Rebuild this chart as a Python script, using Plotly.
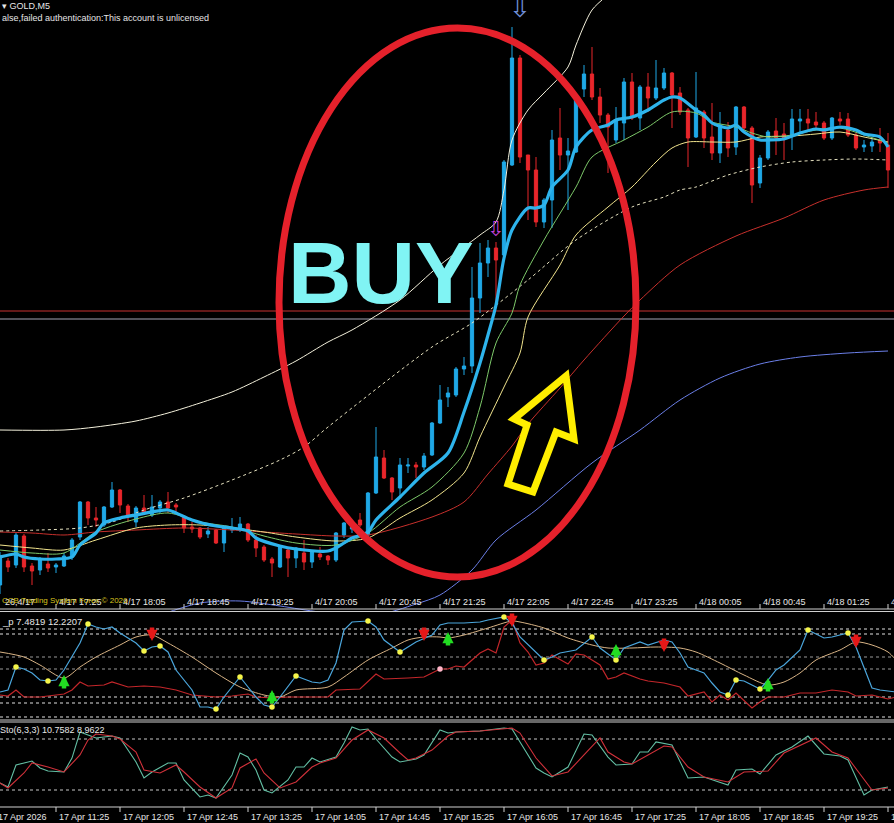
import plotly.graph_objects as go

W, H = 894, 823

# ---- main chart: GOLD M5 candles (bar index 0..111) ----
bar_idx = list(range(112))
c_open = [4841.5, 4843.9, 4843.5, 4846.4, 4843.4, 4843.0, 4843.6, 4843.3, 4843.4, 4844.3,
          4846.3, 4849.8, 4848.2, 4847.5, 4849.3, 4851.0, 4849.4, 4847.8, 4849.2, 4848.5,
          4849.2, 4849.8, 4849.5, 4848.3, 4847.3, 4847.2, 4846.6, 4847.0, 4845.7, 4847.0,
          4847.2, 4847.6, 4846.0, 4845.3, 4844.1, 4843.3, 4845.0, 4844.2, 4844.7, 4843.8,
          4844.6, 4844.4, 4844.0, 4846.5, 4847.1, 4848.0, 4846.5, 4850.7, 4854.2, 4852.2,
          4851.2, 4853.4, 4853.5, 4853.3, 4854.5, 4857.7, 4860.3, 4860.5, 4863.1, 4863.4,
          4870.2, 4873.7, 4875.2, 4874.5, 4883.5, 4894.2, 4884.5, 4883.0, 4877.8, 4880.0,
          4886.2, 4884.5, 4884.8, 4891.1, 4892.6, 4890.3, 4888.5, 4886.0, 4887.7, 4891.8,
          4888.2, 4891.3, 4890.2, 4891.2, 4892.7, 4890.7, 4889.0, 4886.3, 4888.8, 4886.3,
          4884.7, 4887.0, 4885.3, 4889.3, 4887.2, 4881.7, 4884.2, 4886.9, 4886.6, 4886.5,
          4887.9, 4888.1, 4887.8, 4887.7, 4886.2, 4888.1, 4888.1, 4886.5, 4885.3, 4885.4,
          4886.0, 4885.5]
c_high = [4844.8, 4844.2, 4846.7, 4846.6, 4843.7, 4844.3, 4844.7, 4843.7, 4844.7, 4846.2,
          4849.9, 4849.9, 4849.3, 4849.4, 4851.8, 4851.1, 4849.6, 4849.4, 4850.5, 4850.5,
          4850.0, 4850.8, 4849.7, 4848.5, 4847.8, 4847.3, 4847.3, 4847.1, 4847.3, 4848.2,
          4848.3, 4847.7, 4846.5, 4845.5, 4844.3, 4845.4, 4845.1, 4845.3, 4846.0, 4844.9,
          4845.3, 4844.5, 4846.8, 4847.8, 4847.6, 4848.7, 4850.8, 4857.3, 4855.0, 4852.3,
          4854.2, 4854.2, 4853.8, 4854.7, 4857.8, 4861.5, 4861.3, 4863.3, 4864.3, 4873.3,
          4875.7, 4876.0, 4875.8, 4884.0, 4897.3, 4894.5, 4884.5, 4884.3, 4880.2, 4887.0,
          4889.2, 4886.2, 4890.1, 4893.5, 4895.3, 4891.2, 4888.7, 4889.3, 4892.2, 4892.7,
          4891.5, 4892.7, 4894.0, 4893.2, 4892.8, 4891.3, 4889.2, 4892.8, 4889.0, 4889.7,
          4888.8, 4887.8, 4889.4, 4889.4, 4887.4, 4884.5, 4887.0, 4888.2, 4887.7, 4889.1,
          4889.1, 4889.1, 4888.8, 4887.9, 4888.3, 4888.8, 4888.7, 4886.7, 4886.0, 4886.2,
          4887.2, 4886.7]
c_low = [4840.6, 4842.8, 4843.2, 4842.8, 4841.5, 4842.5, 4842.8, 4842.7, 4843.3, 4844.0,
         4846.0, 4847.5, 4847.3, 4847.3, 4849.2, 4848.7, 4847.8, 4847.3, 4848.5, 4848.3,
         4848.7, 4848.7, 4848.8, 4846.7, 4846.7, 4846.1, 4846.2, 4845.6, 4844.8, 4846.7,
         4846.8, 4845.8, 4844.3, 4843.8, 4842.3, 4843.2, 4842.3, 4843.2, 4843.0, 4843.2,
         4844.0, 4843.5, 4843.8, 4846.2, 4846.7, 4847.3, 4846.4, 4850.6, 4852.1, 4850.0,
         4850.2, 4852.7, 4852.2, 4853.0, 4854.4, 4857.6, 4859.3, 4860.3, 4862.5, 4862.7,
         4868.7, 4872.3, 4869.3, 4874.4, 4883.4, 4883.7, 4878.0, 4877.3, 4877.2, 4877.2,
         4883.0, 4879.0, 4884.7, 4890.3, 4890.0, 4887.7, 4882.7, 4885.7, 4886.0, 4888.0,
         4887.0, 4888.8, 4890.0, 4891.0, 4887.2, 4888.5, 4883.3, 4886.2, 4885.2, 4884.0,
         4883.7, 4884.3, 4884.5, 4886.8, 4879.7, 4881.2, 4884.0, 4884.5, 4884.0, 4885.0,
         4886.8, 4886.8, 4887.2, 4886.0, 4886.0, 4887.5, 4886.3, 4885.0, 4884.8, 4884.8,
         4884.8, 4881.2]
c_close = [4844.4, 4843.3, 4846.5, 4843.3, 4842.9, 4844.0, 4843.2, 4843.5, 4844.4, 4846.0,
           4849.8, 4848.2, 4848.0, 4849.3, 4851.0, 4849.5, 4848.4, 4849.2, 4848.7, 4849.3,
           4849.8, 4849.2, 4849.3, 4847.2, 4847.1, 4846.3, 4846.9, 4845.7, 4847.2, 4847.2,
           4847.6, 4846.0, 4845.2, 4844.0, 4843.7, 4845.3, 4844.2, 4845.2, 4843.8, 4844.8,
           4844.3, 4844.0, 4846.7, 4847.7, 4847.3, 4847.5, 4850.7, 4854.3, 4852.2, 4850.8,
           4853.5, 4853.5, 4853.3, 4854.4, 4857.7, 4860.0, 4860.7, 4863.1, 4863.4, 4870.2,
           4873.7, 4875.2, 4874.0, 4883.8, 4894.2, 4884.3, 4883.0, 4877.8, 4880.0, 4886.0,
           4884.5, 4884.9, 4890.0, 4892.6, 4890.3, 4888.5, 4887.3, 4888.0, 4891.8, 4888.2,
           4891.3, 4890.2, 4891.2, 4892.7, 4890.5, 4888.8, 4886.2, 4889.2, 4886.2, 4884.7,
           4887.5, 4885.2, 4889.3, 4887.2, 4881.5, 4884.2, 4886.8, 4886.2, 4886.2, 4888.1,
           4888.1, 4887.7, 4887.5, 4886.2, 4888.2, 4887.9, 4886.5, 4885.2, 4885.5, 4885.8,
           4885.7, 4883.0]

# moving averages / bands (bar index, price)
fast_x = [0, 2, 3, 5, 7, 9, 10, 12, 13, 15, 17, 21, 22, 24, 27, 29, 31, 32, 35, 37, 41, 42, 43, 44,
          46, 47, 50, 53, 56, 58, 60, 61, 62, 63, 64, 66, 67, 68, 69, 71, 72, 74, 76, 77, 79, 81,
          83, 84, 85, 87, 88, 89, 91, 92, 93, 95, 96, 98, 100, 102, 103, 105, 107, 108, 110, 111]
fast_y = [4844.3, 4844.6, 4844.3, 4844.1, 4844.1, 4844.3, 4845.5, 4846.7, 4847.7, 4848.2, 4848.5,
          4849.0, 4848.7, 4848.0, 4847.4, 4847.2, 4846.9, 4846.2, 4845.4, 4845.1, 4844.9, 4845.2,
          4845.7, 4846.2, 4846.8, 4848.0, 4850.3, 4852.7, 4854.7, 4858.8, 4863.7, 4866.5, 4869.5,
          4874.2, 4877.0, 4879.2, 4879.2, 4879.5, 4881.3, 4883.0, 4885.3, 4887.0, 4887.5, 4888.0,
          4888.3, 4889.0, 4890.0, 4890.3, 4890.2, 4889.0, 4888.5, 4887.7, 4887.2, 4887.5, 4886.8,
          4886.0, 4886.0, 4886.1, 4886.7, 4887.1, 4887.0, 4887.3, 4887.0, 4886.6, 4886.3, 4885.3]
green_x = [0, 4, 8, 12, 17, 21, 25, 29, 33, 37, 42, 46, 50, 54, 58, 60, 62, 64, 65, 68, 72, 74,
           78, 81, 84, 87, 89, 92, 94, 96, 99, 102, 105, 108, 111]
green_y = [4845.0, 4844.7, 4844.7, 4846.8, 4848.1, 4848.7, 4847.8, 4847.3, 4846.4, 4845.7, 4845.5,
           4846.7, 4849.3, 4851.3, 4854.7, 4859.3, 4865.7, 4868.7, 4871.5, 4876.0, 4881.3, 4884.3,
           4886.0, 4887.3, 4888.8, 4888.7, 4887.8, 4887.3, 4886.7, 4886.3, 4886.5, 4887.0, 4887.2,
           4886.5, 4885.7]
yellow_x = [0, 4, 8, 12, 17, 21, 25, 29, 33, 37, 42, 46, 50, 54, 58, 60, 63, 65, 66, 70, 72, 76,
            79, 82, 84, 86, 89, 92, 95, 99, 102, 105, 108, 111]
yellow_y = [4845.5, 4845.2, 4845.0, 4846.0, 4847.2, 4847.5, 4847.5, 4847.2, 4846.8, 4846.3, 4845.9,
            4846.2, 4848.2, 4850.0, 4852.7, 4856.3, 4861.3, 4864.7, 4868.3, 4873.5, 4876.5, 4879.3,
            4881.3, 4883.8, 4885.2, 4885.8, 4885.8, 4885.8, 4886.3, 4886.4, 4886.6, 4886.8, 4886.3,
            4885.8]
mid_x = [0, 5, 10, 14, 18, 23, 29, 35, 38, 41, 54, 59, 66, 72, 79, 83, 85, 87, 91, 95, 99, 103,
         107, 111]
mid_y = [4846.9, 4847.0, 4847.2, 4847.8, 4849.0, 4850.2, 4852.0, 4854.0, 4855.3, 4857.3, 4865.3,
         4867.7, 4872.0, 4876.0, 4879.3, 4880.3, 4881.0, 4881.3, 4882.5, 4883.3, 4883.8, 4884.0,
         4884.1, 4884.0]
upper_x = [0, 8, 12, 17, 21, 25, 29, 33, 37, 41, 44, 50, 55, 60, 62, 63, 64, 66, 68, 71, 72, 74, 76]
upper_y = [4857.0, 4857.0, 4857.3, 4857.9, 4858.7, 4859.7, 4860.8, 4862.3, 4863.9, 4865.8, 4867.0,
           4870.0, 4873.5, 4876.5, 4877.8, 4881.0, 4886.0, 4889.0, 4890.7, 4893.3, 4895.5, 4899.0,
           4900.5]
slow_x = [0, 4, 8, 12, 17, 23, 29, 33, 37, 42, 46, 54, 58, 61, 64, 66, 70, 73, 78, 80, 85, 92,
          98, 103, 108, 111]
slow_y = [4846.8, 4846.7, 4846.5, 4846.8, 4847.0, 4847.2, 4847.0, 4846.8, 4846.6, 4846.4, 4846.5,
          4848.3, 4849.8, 4852.6, 4855.4, 4857.6, 4861.2, 4864.0, 4868.4, 4870.0, 4873.5, 4876.4,
          4878.2, 4880.0, 4881.0, 4881.3]
lower_x = [20, 25, 30, 35, 40, 47, 52, 55, 59, 62, 67, 74, 80, 85, 90, 95, 100, 106, 111]
lower_y = [4838.5, 4839.7, 4839.9, 4839.4, 4838.8, 4838.5, 4839.6, 4840.5, 4843.0, 4846.0, 4849.0,
           4853.7, 4857.0, 4860.0, 4862.2, 4863.6, 4864.3, 4864.7, 4864.9]
hline_red = 4868.9
hline_gray = 4868.1
sig_x = [62, 65]
sig_y = [4876.9, 4899.0]

# ---- indicator window ----
ib_x = [0, 1, 2, 3, 4, 5, 6, 7, 8, 10, 11, 12, 13, 14, 15, 17, 18, 19, 20, 21, 22, 24, 25, 26, 27,
        28, 29, 30, 31, 32, 33, 34, 35, 36, 37, 38, 39, 40, 41, 42, 43, 44, 46, 47, 48, 50, 51, 52,
        54, 55, 56, 58, 60, 61, 63, 64, 65, 67, 68, 69, 70, 72, 74, 75, 77, 78, 80, 81, 83, 84, 85,
        86, 88, 89, 90, 91, 92, 93, 95, 96, 97, 98, 100, 101, 103, 104, 106, 107, 109, 110, 112]
ib_v = [26, 28, 51, 49, 45, 38, 37, 38, 48, 75, 94, 91, 89, 91, 85, 75, 67, 71, 72, 66, 48, 28, 11,
        11, 9, 21, 31, 41, 31, 21, 13, 11, 21, 31, 42, 39, 36, 35, 38, 55, 88, 96, 97, 91, 78, 66, 71,
        76, 83, 93, 95, 95, 96, 98, 101, 95, 81, 66, 58, 61, 65, 68, 81, 70, 58, 70, 76, 73, 78, 76,
        65, 51, 45, 35, 26, 23, 38, 37, 29, 38, 48, 53, 68, 88, 80, 81, 85, 71, 30, 28, 26]
it_x = [0, 3, 5, 8, 10, 12, 15, 17, 19, 21, 24, 27, 30, 33, 35, 37, 41, 43, 46, 49, 51, 53, 55, 56,
        58, 61, 64, 65, 68, 71, 74, 76, 79, 82, 85, 87, 90, 93, 96, 98, 100, 102, 105, 107, 109,
        111, 112]
it_v = [66, 61, 53, 40, 51, 61, 73, 81, 83, 75, 61, 45, 31, 23, 21, 28, 31, 41, 58, 70, 78, 81, 81,
        80, 83, 90, 97, 96, 90, 80, 73, 70, 70, 71, 70, 66, 55, 43, 33, 36, 45, 58, 68, 76, 73, 66, 58]
ir_x = [0, 1, 2, 3, 5, 8, 9, 10, 11, 13, 14, 16, 18, 20, 22, 24, 27, 29, 31, 32, 34, 36, 38, 41, 42,
        45, 47, 48, 51, 53, 55, 56, 57, 58, 60, 61, 62, 63, 64, 65, 66, 67, 68, 69, 71, 72, 73, 75,
        76, 77, 78, 80, 81, 83, 85, 86, 88, 89, 90, 91, 92, 94, 95, 96, 98, 100, 102, 104, 106, 107,
        109, 111, 112]
ir_v = [23, 22, 28, 21, 21, 24, 28, 36, 32, 33, 36, 31, 32, 31, 28, 23, 21, 22, 24, 21, 20, 21, 21,
        21, 28, 29, 44, 39, 40, 41, 49, 49, 52, 51, 65, 69, 65, 91, 98, 75, 66, 53, 55, 63, 54, 64,
        63, 53, 39, 41, 45, 39, 37, 35, 31, 22, 26, 16, 23, 18, 25, 10, 16, 21, 21, 25, 25, 28, 26,
        22, 23, 19, 21]
dot_x = [2, 6, 11, 18, 20, 27, 30, 34, 37, 46, 50, 63, 68, 74, 77, 91, 92, 95, 101, 106]
dot_v = [51, 37, 94, 67, 72, 9, 41, 11, 42, 97, 66, 101, 58, 81, 58, 23, 38, 29, 88, 85]
pink_x = [55]
pink_v = [49]
up_x = [8, 34, 56, 77, 96]
up_v = [36, 21, 79, 67, 33]
dn_x = [19, 53, 64, 83, 107]
dn_v = [84, 84, 98, 73, 77]
ind_levels = [89, 84, 61, 49, 21, 15, 1]

# ---- Stochastic(6,3,3) ----
sk_x = [0, 1, 2, 3, 4, 5, 6, 8, 9, 10, 11, 12, 14, 15, 17, 18, 19, 21, 22, 23, 25, 26, 27, 29, 30,
        31, 32, 33, 34, 36, 37, 38, 39, 40, 42, 43, 44, 45, 46, 47, 49, 50, 52, 53, 55, 56, 57, 60,
        63, 64, 65, 67, 68, 69, 71, 73, 74, 76, 77, 79, 80, 81, 82, 84, 86, 88, 91, 92, 94, 95, 97,
        99, 101, 103, 105, 106, 108, 109, 111]
sk_v = [28.2, 23.5, 49.4, 51.8, 54.1, 45.9, 42.3, 41.2, 57.6, 88.2, 84.7, 81.2, 83.5, 81.2, 52.9,
        34.1, 41.2, 51.8, 51.8, 31.8, 11.8, 14.1, 10.6, 37.6, 63.5, 58.8, 43.5, 20, 16.5, 31.8, 47,
        47, 57.6, 52.9, 58.8, 75.3, 94.1, 90.6, 91.7, 80, 58.8, 52.9, 56.5, 61.2, 90.6, 87, 88.2,
        89.4, 92.9, 91.7, 76.5, 45.9, 40, 35.3, 47, 85.9, 84.7, 58.8, 49.4, 50.6, 64.7, 64.7, 76.5,
        72.9, 34.1, 35.3, 25.9, 43.5, 44.7, 38.8, 61.2, 70.6, 83.5, 62.4, 60, 55.3, 14.1, 20, 23.5]
sd_x = [0, 1, 3, 4, 6, 8, 10, 11, 12, 14, 15, 17, 18, 20, 22, 23, 25, 27, 29, 30, 32, 33, 35, 37,
        39, 40, 42, 44, 46, 48, 50, 51, 52, 54, 56, 57, 60, 64, 65, 67, 69, 71, 73, 75, 76, 78, 79,
        81, 83, 84, 86, 88, 91, 93, 96, 98, 102, 104, 106, 109, 111]
sd_v = [28.2, 22.4, 40, 51.8, 47, 41.2, 61.2, 78.8, 85.9, 83.5, 80, 64.7, 43.5, 40, 49.4, 41.2,
        23.5, 10.6, 22.4, 45.9, 56.5, 40, 22.4, 29.4, 47, 51.8, 57.6, 78.8, 90.6, 81.2, 63.5, 55.3,
        57.6, 67, 83.5, 88.2, 89.4, 92.9, 87, 57.6, 36.5, 41.2, 61.2, 81.2, 64.7, 52.9, 50.6, 61.2,
        71.7, 70.6, 47, 35.3, 29.4, 41.2, 42.3, 63.5, 81.2, 64.7, 57.6, 20, 22.4]
sto_levels = [80, 20]

# ---- time axis labels ----
tick_idx = [7, 15, 23, 31, 39, 47, 55, 63, 71, 79, 87, 95, 103, 111]
top_labels = ["4/17 17:25", "4/17 18:05", "4/17 18:45", "4/17 19:25", "4/17 20:05", "4/17 20:45",
              "4/17 21:25", "4/17 22:05", "4/17 22:45", "4/17 23:25", "4/18 00:05", "4/18 00:45",
              "4/18 01:25", "4/18 02:05"]
bottom_labels = ["17 Apr 11:25", "17 Apr 12:05", "17 Apr 12:45", "17 Apr 13:25", "17 Apr 14:05",
                 "17 Apr 14:45", "17 Apr 15:25", "17 Apr 16:05", "17 Apr 16:45", "17 Apr 17:25",
                 "17 Apr 18:05", "17 Apr 18:45", "17 Apr 19:25", "17 Apr 20:05"]

FONT = "Liberation Sans, Arial, sans-serif"


def px(x):
    return x / W


def py(y):
    return 1 - y / H


fig = go.Figure()


def add_line(x, y, color, width, ax="", dash="solid", shape="spline"):
    fig.add_trace(go.Scatter(x=x, y=y, mode="lines", hoverinfo="skip",
                             line=dict(color=color, width=width, dash=dash, shape=shape, smoothing=0.8),
                             xaxis="x" + ax, yaxis="y" + ax))


# main window
add_line(lower_x, lower_y, "#6B7FE8", 1)
add_line(slow_x, slow_y, "#C8302C", 1)
add_line(mid_x, mid_y, "#E6E2C0", 1, dash="3px,3px")
add_line(upper_x, upper_y, "#F4F1DC", 1)

fig.add_trace(go.Candlestick(
    x=bar_idx, open=c_open, high=c_high, low=c_low, close=c_close,
    increasing=dict(line=dict(color="#1FA8E6", width=1), fillcolor="#1FA8E6"),
    decreasing=dict(line=dict(color="#E8262B", width=1), fillcolor="#E8262B"),
    whiskerwidth=0, hoverinfo="skip", xaxis="x", yaxis="y"))

add_line(yellow_x, yellow_y, "#F2E58E", 1)
add_line(green_x, green_y, "#7DC96A", 1)
add_line(fast_x, fast_y, "#2EB4EC", 3.2)

fig.add_trace(go.Scatter(x=sig_x, y=sig_y, mode="text", text=["⇩", "⇩"],
                         textfont=dict(family="DejaVu Sans", size=[21, 26], color=["#C040D8", "#6F8FD8"]),
                         hoverinfo="skip", xaxis="x", yaxis="y", cliponaxis=False))

# indicator window
add_line(it_x, it_v, "#D9B486", 1, ax="2")
add_line(ir_x, ir_v, "#C3262A", 1.2, ax="2", shape="linear")
add_line(ib_x, ib_v, "#4BA6DC", 1.2, ax="2", shape="linear")
fig.add_trace(go.Scatter(x=dot_x, y=dot_v, mode="markers", marker=dict(color="#F5F54A", size=5.5),
                         hoverinfo="skip", xaxis="x2", yaxis="y2"))
fig.add_trace(go.Scatter(x=pink_x, y=pink_v, mode="markers", marker=dict(color="#FFB6C8", size=5.5),
                         hoverinfo="skip", xaxis="x2", yaxis="y2"))

# stochastic window
add_line(sk_x, sk_v, "#63BFA4", 1.1, ax="3", shape="linear")
add_line(sd_x, sd_v, "#D0313A", 1.1, ax="3", shape="linear")

shapes = []
shapes.append(dict(type="line", xref="paper", yref="y", x0=0, x1=1, y0=hline_red, y1=hline_red,
                   line=dict(color="#C83232", width=1), layer="below"))
shapes.append(dict(type="line", xref="paper", yref="y", x0=0, x1=1, y0=hline_gray, y1=hline_gray,
                   line=dict(color="#A4A4B4", width=1), layer="below"))
for lv in ind_levels:
    col = "#9A9A9A" if lv in (61, 49) else "#E0E0E0"
    shapes.append(dict(type="line", xref="paper", yref="y2", x0=0, x1=1, y0=lv, y1=lv,
                       line=dict(color=col, width=1, dash="3px,3px"), layer="below"))
for lv in sto_levels:
    shapes.append(dict(type="line", xref="paper", yref="y3", x0=0, x1=1, y0=lv, y1=lv,
                       line=dict(color="#C8C8C8", width=1, dash="3px,3px"), layer="below"))
for yy in (609, 611.5, 720, 722, 807):
    shapes.append(dict(type="line", xref="paper", yref="paper", x0=0, x1=1, y0=py(yy), y1=py(yy),
                       line=dict(color="#D0D0D0", width=1)))
for t in tick_idx:
    shapes.append(dict(type="line", xref="x", yref="paper", x0=t, x1=t, y0=py(609), y1=py(604),
                       line=dict(color="#D0D0D0", width=1)))
    shapes.append(dict(type="line", xref="x3", yref="paper", x0=t, x1=t, y0=py(807), y1=py(812),
                       line=dict(color="#D0D0D0", width=1)))

# hand-drawn marks on the screenshot
shapes.append(dict(type="circle", xref="paper", yref="paper",
                   x0=px(279), x1=px(636), y0=py(577), y1=py(28),
                   line=dict(color="#E5212B", width=7)))
arrow_pts = [(566, 376), (574, 439), (556, 432), (533, 492), (508, 484), (527, 425), (514, 419)]
path = "M " + " L ".join(f"{px(a):.4f},{py(b):.4f}" for a, b in arrow_pts) + " Z"
shapes.append(dict(type="path", xref="paper", yref="paper", path=path,
                   line=dict(color="#FFEE00", width=7)))

ann = []

# signal arrows of the indicator window (head + shaft)
for xx, vv in zip(up_x, up_v):
    ann.append(dict(x=xx, y=vv, xref="x2", yref="y2", text="", showarrow=True, ax=0, ay=15,
                    yshift=7, arrowhead=2, arrowsize=0.5, arrowwidth=4.5, arrowcolor="#22DD22",
                    standoff=0))
for xx, vv in zip(dn_x, dn_v):
    ann.append(dict(x=xx, y=vv, xref="x2", yref="y2", text="", showarrow=True, ax=0, ay=-15,
                    yshift=-7, arrowhead=2, arrowsize=0.5, arrowwidth=4.5, arrowcolor="#E41818",
                    standoff=0))


def text(x, y, s, size=9, color="#E6E6E6", xref="paper", anchor="left", xshift=0):
    ann.append(dict(x=x, y=py(y), xref=xref, yref="paper", text=s, showarrow=False,
                    xanchor=anchor, yanchor="middle", xshift=xshift,
                    font=dict(family=FONT, size=size, color=color)))


text(px(0), 6, "▾ GOLD,M5")
text(px(0), 18, "alse,failed authentication:This account is unlicensed")
text(px(3), 602, "26,4/17")
for t, lab in zip(tick_idx, top_labels):
    text(t, 602, lab, xref="x", xshift=1)
text(px(-4), 817, "17 Apr 2026")
for t, lab in zip(tick_idx, bottom_labels):
    text(t, 817, lab, xref="x3", xshift=1)
text(px(0), 600, "CCB Trading System Forex © 2026", size=8, color="#D8C41E")
text(px(0), 621, "_p 7.4819 12.2207", size=9.5)
text(px(-2), 730, "Sto(6,3,3) 10.7582 8.9622")

ann.append(dict(x=px(381), y=py(273), xref="paper", yref="paper", text="<b>BUY</b>",
                showarrow=False, xanchor="center", yanchor="middle",
                font=dict(family=FONT, size=88, color="#80F4F4")))

fig.update_layout(
    width=W, height=H, margin=dict(l=0, r=0, t=0, b=0),
    paper_bgcolor="black", plot_bgcolor="black", showlegend=False, boxgap=0.42,
    xaxis=dict(domain=[0, 1], range=[0, 111.75], anchor="y", visible=False,
               rangeslider=dict(visible=False), fixedrange=True),
    yaxis=dict(domain=[py(611), 1], range=[4838.9, 4900], visible=False, fixedrange=True),
    xaxis2=dict(domain=[0, 1], range=[0, 111.75], anchor="y2", visible=False, fixedrange=True),
    yaxis2=dict(domain=[py(718), py(612)], range=[0, 106], visible=False, fixedrange=True),
    xaxis3=dict(domain=[0, 1], range=[0, 111.75], anchor="y3", visible=False, fixedrange=True),
    yaxis3=dict(domain=[py(807), py(722)], range=[0, 100], visible=False, fixedrange=True),
    shapes=shapes, annotations=ann,
)

# page body has a default margin; remove it so the chart fills the window
fig.write_html("out.html", config={"displayModeBar": False},
               post_script="document.body.style.margin='0';"
                           "document.body.style.background='black';")
